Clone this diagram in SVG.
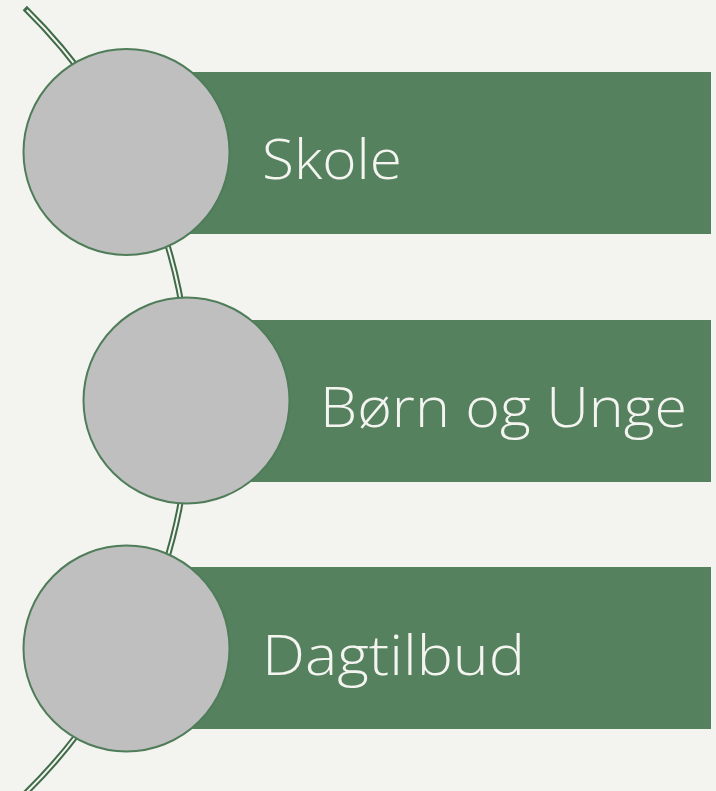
<svg xmlns="http://www.w3.org/2000/svg" width="716" height="791" viewBox="0 0 716 791">
  <defs>
    <style>
      .bar { fill: #55815e; }
      .disc { fill: #bfbfbf; stroke: #4f7d59; stroke-width: 2; }
      .lbl { font-family: "Open Sans", "Liberation Sans", sans-serif; font-weight: 300; font-size: 56px; fill: #f4f4f0; }
      .arcOuter { fill: none; stroke: #3f6b48; stroke-width: 6; stroke-linecap: butt; }
      .arcInner { fill: none; stroke: #f3f3ef; stroke-width: 2; stroke-linecap: butt; }
    </style>
  </defs>
  <rect x="0" y="0" width="716" height="791" fill="#f3f3ef"/>
  <g id="connectors">
    <path class="arcOuter" d="M 24.8 8 A 550 550 0 0 1 18.5 800"/>
    <path class="arcInner" d="M 26.8 10 A 550 550 0 0 1 18.5 800"/>
  </g>
  <g id="node-skole">
    <rect class="bar" x="126" y="72" width="585" height="162"/>
    <circle class="disc" cx="126.5" cy="152" r="103"/>
    <text class="lbl" x="262" y="179" textLength="140" lengthAdjust="spacingAndGlyphs">Skole</text>
  </g>
  <g id="node-born">
    <rect class="bar" x="186" y="320" width="525" height="162"/>
    <circle class="disc" cx="186.5" cy="400.5" r="103"/>
    <text class="lbl" x="320" y="427" textLength="367" lengthAdjust="spacingAndGlyphs">Børn og Unge</text>
  </g>
  <g id="node-dagtilbud">
    <rect class="bar" x="126" y="567" width="585" height="162"/>
    <circle class="disc" cx="126.5" cy="648.5" r="103"/>
    <text class="lbl" x="262" y="675" textLength="263" lengthAdjust="spacingAndGlyphs">Dagtilbud</text>
  </g>
</svg>
